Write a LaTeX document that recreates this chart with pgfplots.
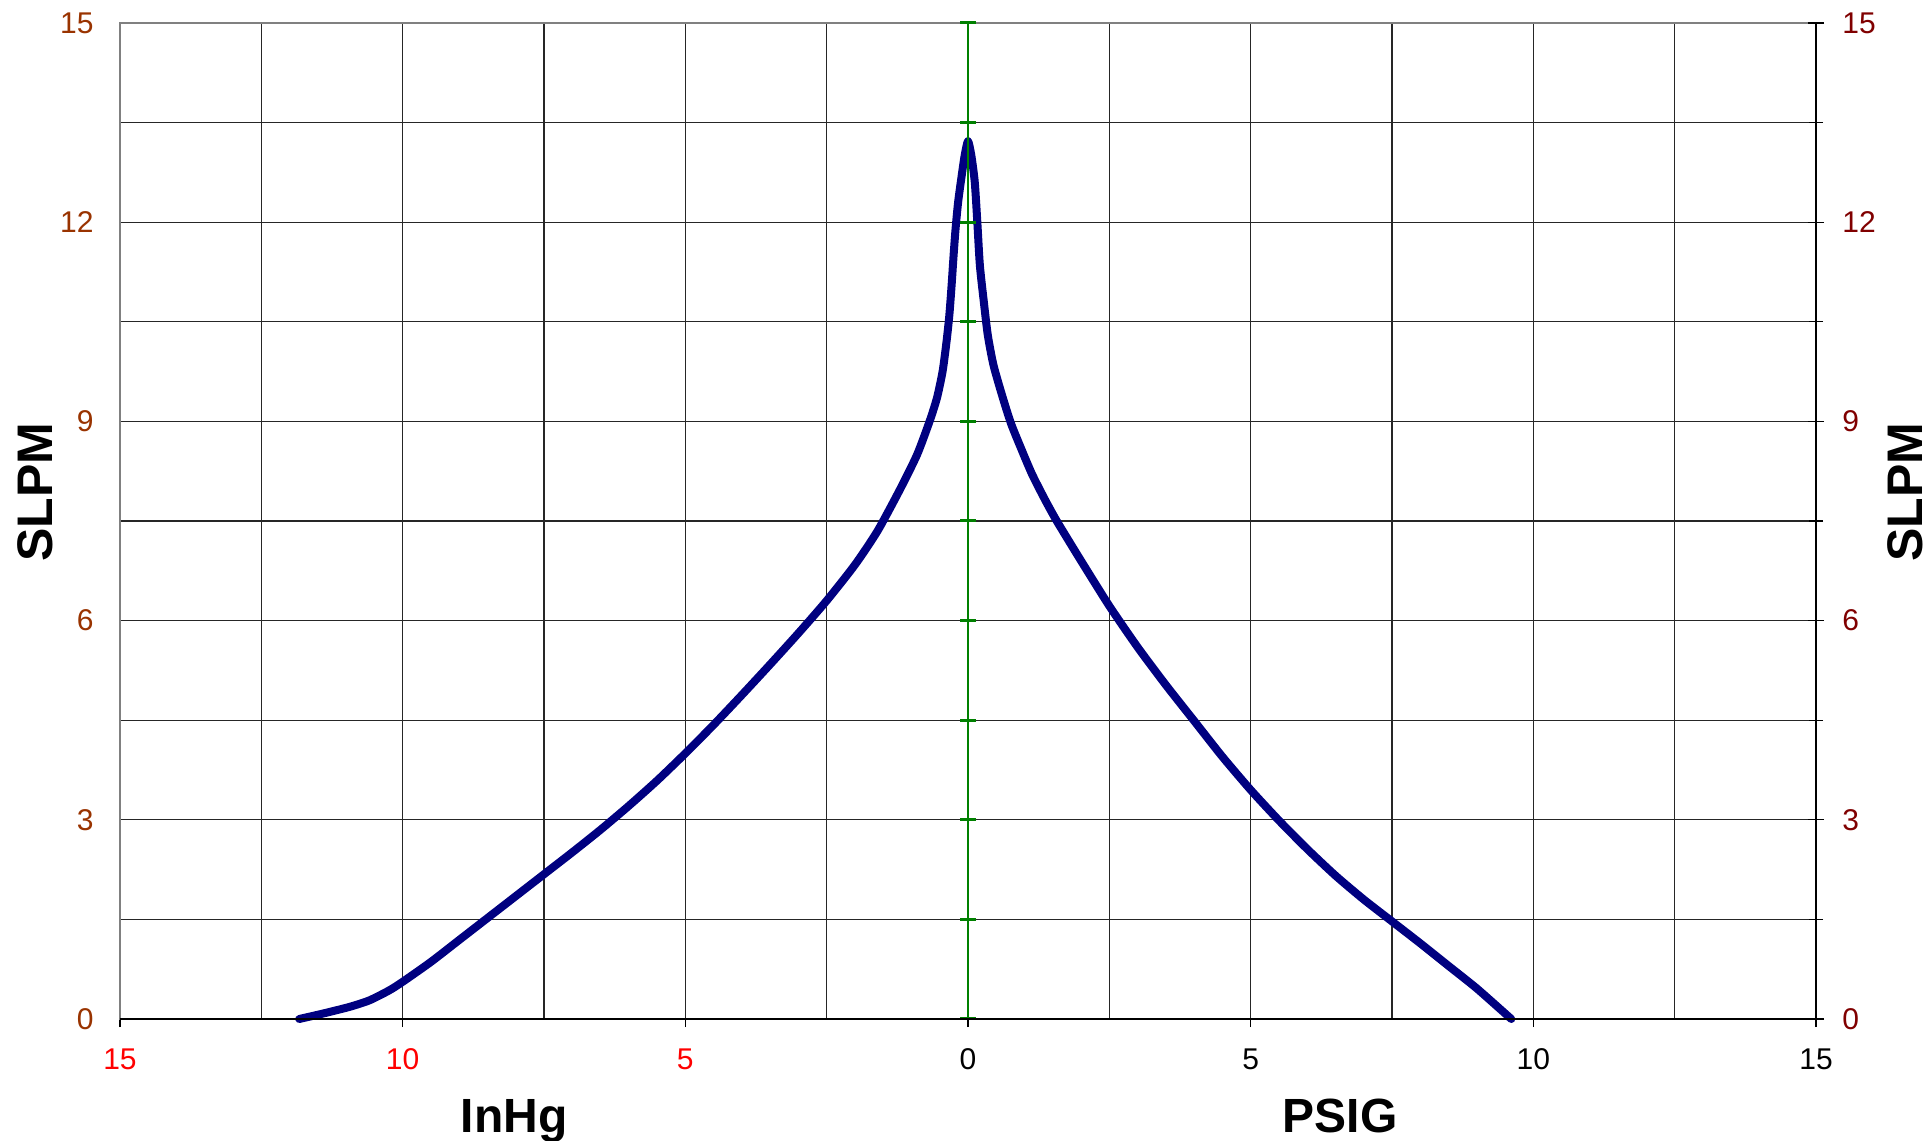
\documentclass[border=0pt]{standalone}
\usepackage{fontspec}
\setmainfont{Liberation Sans}
\usepackage{pgfplots}
\pgfplotsset{compat=1.18}
\definecolor{curve}{HTML}{000080}
\definecolor{leftlab}{HTML}{993300}
\definecolor{rightlab}{HTML}{800000}
\definecolor{xred}{HTML}{FF0000}
\definecolor{zeroline}{HTML}{008000}
\begin{document}
\begin{tikzpicture}
\useasboundingbox (-60pt,-61pt) rectangle (904.5pt,509.5pt);
% main axis: grid, left scale, bottom scale, curve
\begin{axis}[
    at={(0pt,0pt)}, anchor=south west,
    width=848pt, height=498pt, scale only axis,
    xmin=-15, xmax=15, ymin=0, ymax=15,
    xtick={-15,-10,...,15},
    xticklabels={\textcolor{xred}{15},\textcolor{xred}{10},\textcolor{xred}{5},0,5,10,15},
    minor xtick={-12.5,-7.5,-2.5,2.5,7.5,12.5},
    ytick={0,3,...,15},
    minor ytick={1.5,4.5,...,13.5},
    grid=both,
    major grid style={black!85, line width=0.6pt},
    minor grid style={black!85, line width=0.6pt},
    axis line style={draw=gray, line width=1.2pt},
    xtick pos=left, ytick pos=left,
    tick align=outside,
    major tick length=4pt, minor tick length=0pt,
    ytick style={draw=none},
    xtick style={black, line width=0.6pt},
    /pgf/number format/assume math mode=true,
    ticklabel style={font=\fontsize{15}{15}\selectfont},
    yticklabel style={color=leftlab, anchor=east, inner sep=0pt, xshift=-9pt},
    xticklabel style={anchor=north, inner sep=0pt, yshift=-10.5pt},
    clip=false,
]
\addplot[curve, line width=4pt, line join=round, line cap=round, smooth, tension=0.4] coordinates {
    (-11.83,0) (-11.42,0.08) (-10.95,0.18) (-10.59,0.28) (-10.24,0.43)
    (-10.0,0.56) (-9.5,0.86) (-9.0,1.19) (-8.5,1.52) (-8.0,1.85)
    (-7.5,2.18) (-7.0,2.51) (-6.5,2.85) (-6.0,3.21) (-5.5,3.59)
    (-5.0,4.00) (-4.5,4.43) (-4.0,4.88) (-3.5,5.34) (-3.0,5.81)
    (-2.5,6.30) (-2.0,6.84) (-1.6,7.35) (-1.2,7.98) (-0.9,8.5)
    (-0.68,9.0) (-0.55,9.35) (-0.45,9.75) (-0.38,10.2) (-0.33,10.6)
    (-0.29,11.05) (-0.255,11.5) (-0.22,11.9) (-0.175,12.3) (-0.12,12.65)
    (-0.06,13.0)
    (0,13.22)
    (0.06,13.0) (0.12,12.6) (0.165,12.0) (0.21,11.35) (0.28,10.8) (0.35,10.3)
    (0.45,9.85) (0.6,9.4) (0.76,8.97) (0.95,8.57) (1.13,8.21)
    (1.35,7.84) (1.57,7.5) (2.0,6.9) (2.5,6.22) (3.0,5.60)
    (3.5,5.03) (4.0,4.49) (4.5,3.95) (5.0,3.45) (5.5,2.99)
    (6.0,2.56) (6.5,2.16) (7.0,1.80) (7.5,1.47) (8.0,1.14)
    (8.5,0.80) (9.0,0.46) (9.61,0)
};
\addplot[zeroline, line width=1.3pt, mark=-, mark size=4pt,
    mark options={line width=1.5pt}] coordinates {
    (0,0) (0,1.5) (0,3) (0,4.5) (0,6) (0,7.5) (0,9)
    (0,10.5) (0,12) (0,13.5) (0,15)
};
\node[anchor=center, rotate=90, font=\bfseries\fontsize{25}{25}\selectfont]
    at ([xshift=-42.5pt,yshift=14.5pt]rel axis cs:0,0.5) {SLPM};
\node[anchor=center, rotate=90, font=\bfseries\fontsize{25}{25}\selectfont]
    at ([xshift=44.5pt,yshift=14.5pt]rel axis cs:1,0.5) {SLPM};
\node[anchor=base, font=\bfseries\fontsize{24}{24}\selectfont]
    at ([yshift=-56.5pt]axis cs:-8.03,0) {InHg};
\node[anchor=base, font=\bfseries\fontsize{24}{24}\selectfont]
    at ([yshift=-56.5pt]axis cs:6.58,0) {PSIG};
\end{axis}
% overlay axis: right scale and black bottom line
\begin{axis}[
    at={(0pt,0pt)}, anchor=south west,
    width=848pt, height=498pt, scale only axis,
    xmin=-15, xmax=15, ymin=0, ymax=15,
    axis y line*=right, axis x line*=bottom,
    axis line style={black, line width=1pt, -},
    xtick=\empty,
    ytick={0,3,...,15},
    minor ytick={1.5,4.5,...,13.5},
    tick align=center,
    major tick length=8pt, minor tick length=7pt,
    tick style={black, line width=0.6pt},
    /pgf/number format/assume math mode=true,
    ticklabel style={font=\fontsize{15}{15}\selectfont},
    yticklabel style={color=rightlab, anchor=west, inner sep=0pt, xshift=9pt},
]
\end{axis}
\end{tikzpicture}
\end{document}
